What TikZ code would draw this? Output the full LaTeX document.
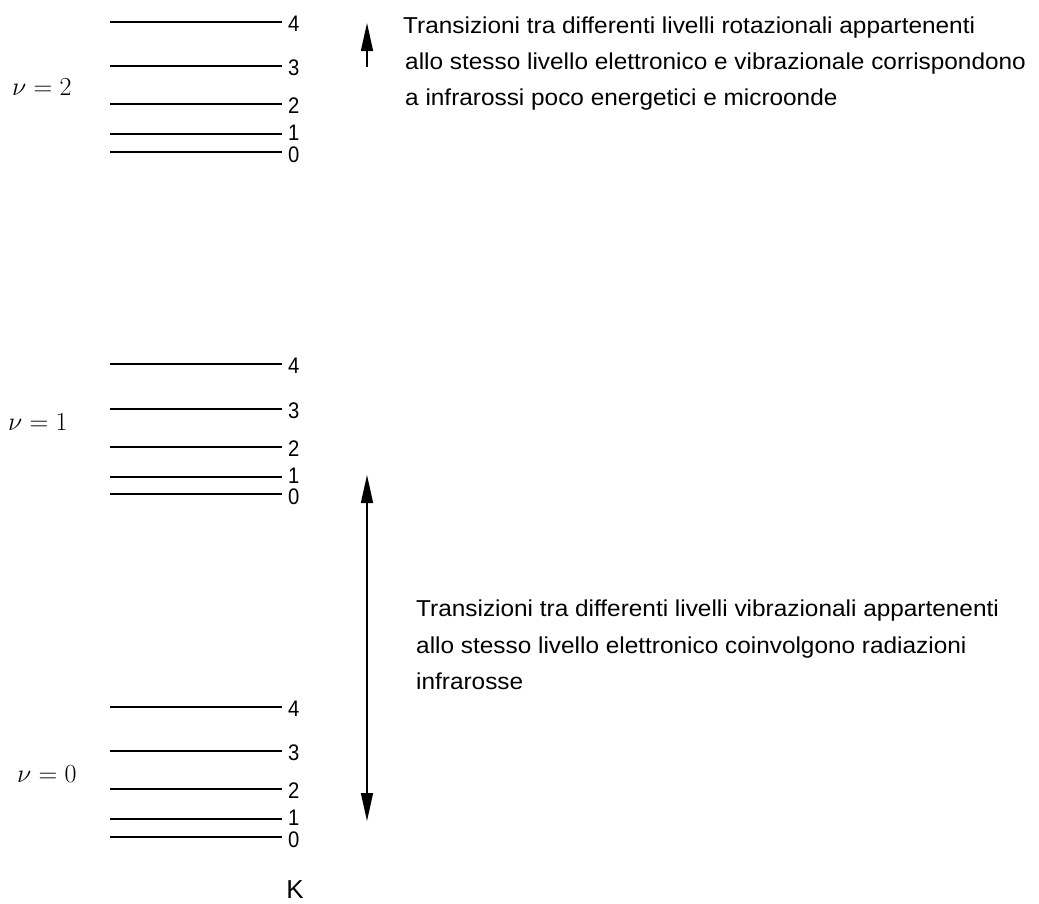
\RequirePackage{fix-cm}
\documentclass[tikz,border=0pt]{standalone}
\usepackage{fontspec}
\newfontfamily\arialf[FakeStretch=1.06]{Liberation Sans}
\newfontfamily\digitf[FakeStretch=0.9]{Liberation Sans}
\newfontfamily\kfont{Liberation Sans}
\usetikzlibrary{arrows.meta}
\begin{document}
\begin{tikzpicture}[x=1pt,y=-1pt,
  level/.style={line width=1.3pt},
  lvlabel/.style={anchor=west,inner sep=0pt,font=\digitf\fontsize{22.5}{22.5}\selectfont},
  nulabel/.style={anchor=base west,inner sep=0pt,font=\fontsize{26}{26}\selectfont},
  desc/.style={anchor=base west,inner sep=0pt,font=\arialf\fontsize{23}{36}\selectfont},
  tip/.tip={Triangle[length=28pt,width=12pt]},
  transarrow/.style={line width=1.5pt}
]
\fill[white] (0,0) rectangle (1039,903);
\useasboundingbox (0,0) rectangle (1039,903);

% v = 2 rotational levels
\foreach \y/\n/\d in {22/4/2,66/3/2,104/2/2,134/1/-1,152/0/3}{
  \coordinate (ta\n) at (110,\y);
  \coordinate (tb\n) at (282,\y);
  \draw[level] (ta\n) -- (tb\n);
  \node[lvlabel] (tl\n) at (288,\y+\d) {\n};
}
% v = 1
\foreach \y/\n/\d in {364/4/2,409/3/2,447/2/2,477/1/-1,494/0/3}{
  \coordinate (ma\n) at (110,\y);
  \coordinate (mb\n) at (282,\y);
  \draw[level] (ma\n) -- (mb\n);
  \node[lvlabel] (ml\n) at (288,\y+\d) {\n};
}
% v = 0
\foreach \y/\n/\d in {707/4/2,751/3/2,789/2/2,819/1/-1,837/0/3}{
  \coordinate (ba\n) at (110,\y);
  \coordinate (bb\n) at (282,\y);
  \draw[level] (ba\n) -- (bb\n);
  \node[lvlabel] (bl\n) at (288,\y+\d) {\n};
}

\node[nulabel] (nu2) at (12,95) {$\nu=2$};
\node[nulabel] (nu1) at (8,430) {$\nu=1$};
\node[nulabel] (nu0) at (17,782) {$\nu=0$};

\node[inner sep=0pt,font=\kfont\fontsize{26}{26}\selectfont] (K) at (295,890) {K};

% rotational transition arrow
\coordinate (ra0) at (367,67);
\coordinate (ra1) at (367,23);
\draw[transarrow,-tip] (ra0) -- (ra1);

% vibrational transition arrow
\coordinate (va0) at (367,475);
\coordinate (va1) at (367,821);
\draw[transarrow,tip-tip] (va0) -- (va1);

\node[desc] (r1) at (403,33) {Transizioni tra differenti livelli rotazionali appartenenti};
\node[desc] (r2) at (405,69) {allo stesso livello elettronico e vibrazionale corrispondono};
\node[desc] (r3) at (405,105) {a infrarossi poco energetici e microonde};

\node[desc] (v1) at (416,616) {Transizioni tra differenti livelli vibrazionali appartenenti};
\node[desc] (v2) at (416,653) {allo stesso livello elettronico coinvolgono radiazioni};
\node[desc] (v3) at (416,689) {infrarosse};
\end{tikzpicture}
\end{document}
